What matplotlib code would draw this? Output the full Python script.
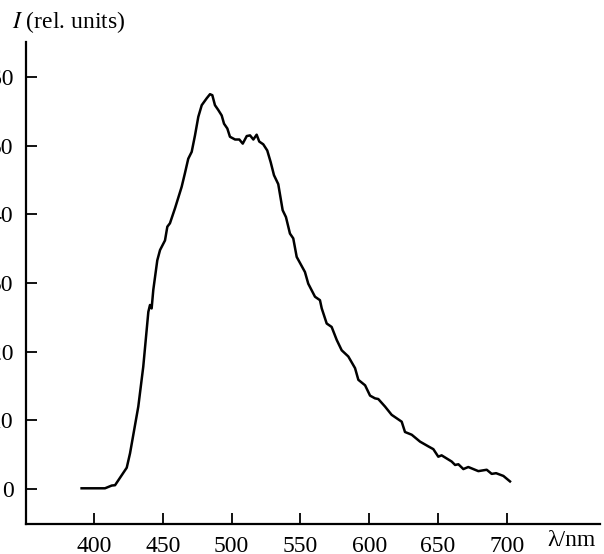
import matplotlib
matplotlib.use("Agg")
import matplotlib.pyplot as plt

plt.rcParams['font.family'] = ['Liberation Serif', 'DejaVu Serif']
plt.rcParams['mathtext.fontset'] = 'stix'

wavelength = [391, 408, 412.9, 415.3, 423.8, 426.2, 432.2, 435.8, 439.5, 440.7, 441.9,
              443.1, 446.0, 448, 451.6, 453.3, 455.2, 458.9, 463.7, 466.1, 468.5, 471,
              473.4, 475.8, 478.3, 481.9, 484.3, 486, 487.9, 490.3, 492.8, 494.5, 496.9,
              498.8, 502.5, 505.6, 508.1, 511, 513.4, 515.8, 518.2, 520.1, 523, 525.9,
              528.4, 530.8, 533.9, 537.1, 539.5, 542.4, 544.8, 547.3, 553.3, 555.7,
              560.6, 564.2, 565.5, 569.1, 572.7, 576.4, 580, 584.8, 589.7, 592.1, 597,
              600.6, 604.2, 606.6, 611.5, 616.3, 623.6, 626, 630.9, 636.9, 643, 646.6,
              650.2, 652.6, 659.9, 662.4, 664.8, 668.4, 672, 679.3, 685.4, 689, 692.2,
              697.5, 702.3]
intensity = [0.1, 0.1, 0.5, 0.55, 3.1, 5.2, 12.0, 17.8, 25.8, 26.8, 26.3,
             29.0, 33.3, 34.8, 36.2, 38.2, 38.7, 40.9, 44.0, 46.0, 48.1, 49.1,
             51.5, 54.2, 55.9, 56.9, 57.5, 57.35, 55.9, 55.2, 54.4, 53.2, 52.5,
             51.3, 50.9, 50.9, 50.3, 51.4, 51.5, 50.9, 51.6, 50.6, 50.2, 49.3,
             47.6, 45.7, 44.4, 40.6, 39.6, 37.2, 36.5, 33.8, 31.6, 29.9,
             28.0, 27.5, 26.3, 24.1, 23.6, 21.7, 20.2, 19.3, 17.6, 15.9, 15.1,
             13.6, 13.2, 13.1, 12.0, 10.8, 9.8, 8.3, 7.9, 6.9, 6.2, 5.8,
             4.7, 4.9, 4.0, 3.5, 3.6, 2.9, 3.2, 2.6, 2.8, 2.2, 2.3,
             1.9, 1.1]
x_ticks = [400, 450, 500, 550, 600, 650, 700]
y_ticks = [0, 10, 20, 30, 40, 50, 60]

fig = plt.figure(figsize=(6.04, 5.54), dpi=100)
ax = fig.add_axes([26/604, 30/554, 574/604, 482/554])
ax.plot(wavelength, intensity, color='black', lw=1.8)
ax.set_xlim(350.6, 767.7)
ax.set_ylim(-5.1, 65.1)
ax.set_xticks(x_ticks)
ax.set_yticks(y_ticks)
for s in ['top', 'right']:
    ax.spines[s].set_visible(False)
for s in ['left', 'bottom']:
    ax.spines[s].set_linewidth(1.6)
ax.tick_params(direction='in', length=8, width=1.3, labelsize=17, pad=9)
fig.text(547/604, 1 - 541/554, "λ/nm", fontsize=17, ha='left', va='center')
fig.text(12/604, 1 - 22/554, "$I$ (rel. units)", fontsize=17, ha='left', va='center')
fig.savefig("out.png", dpi=100)
